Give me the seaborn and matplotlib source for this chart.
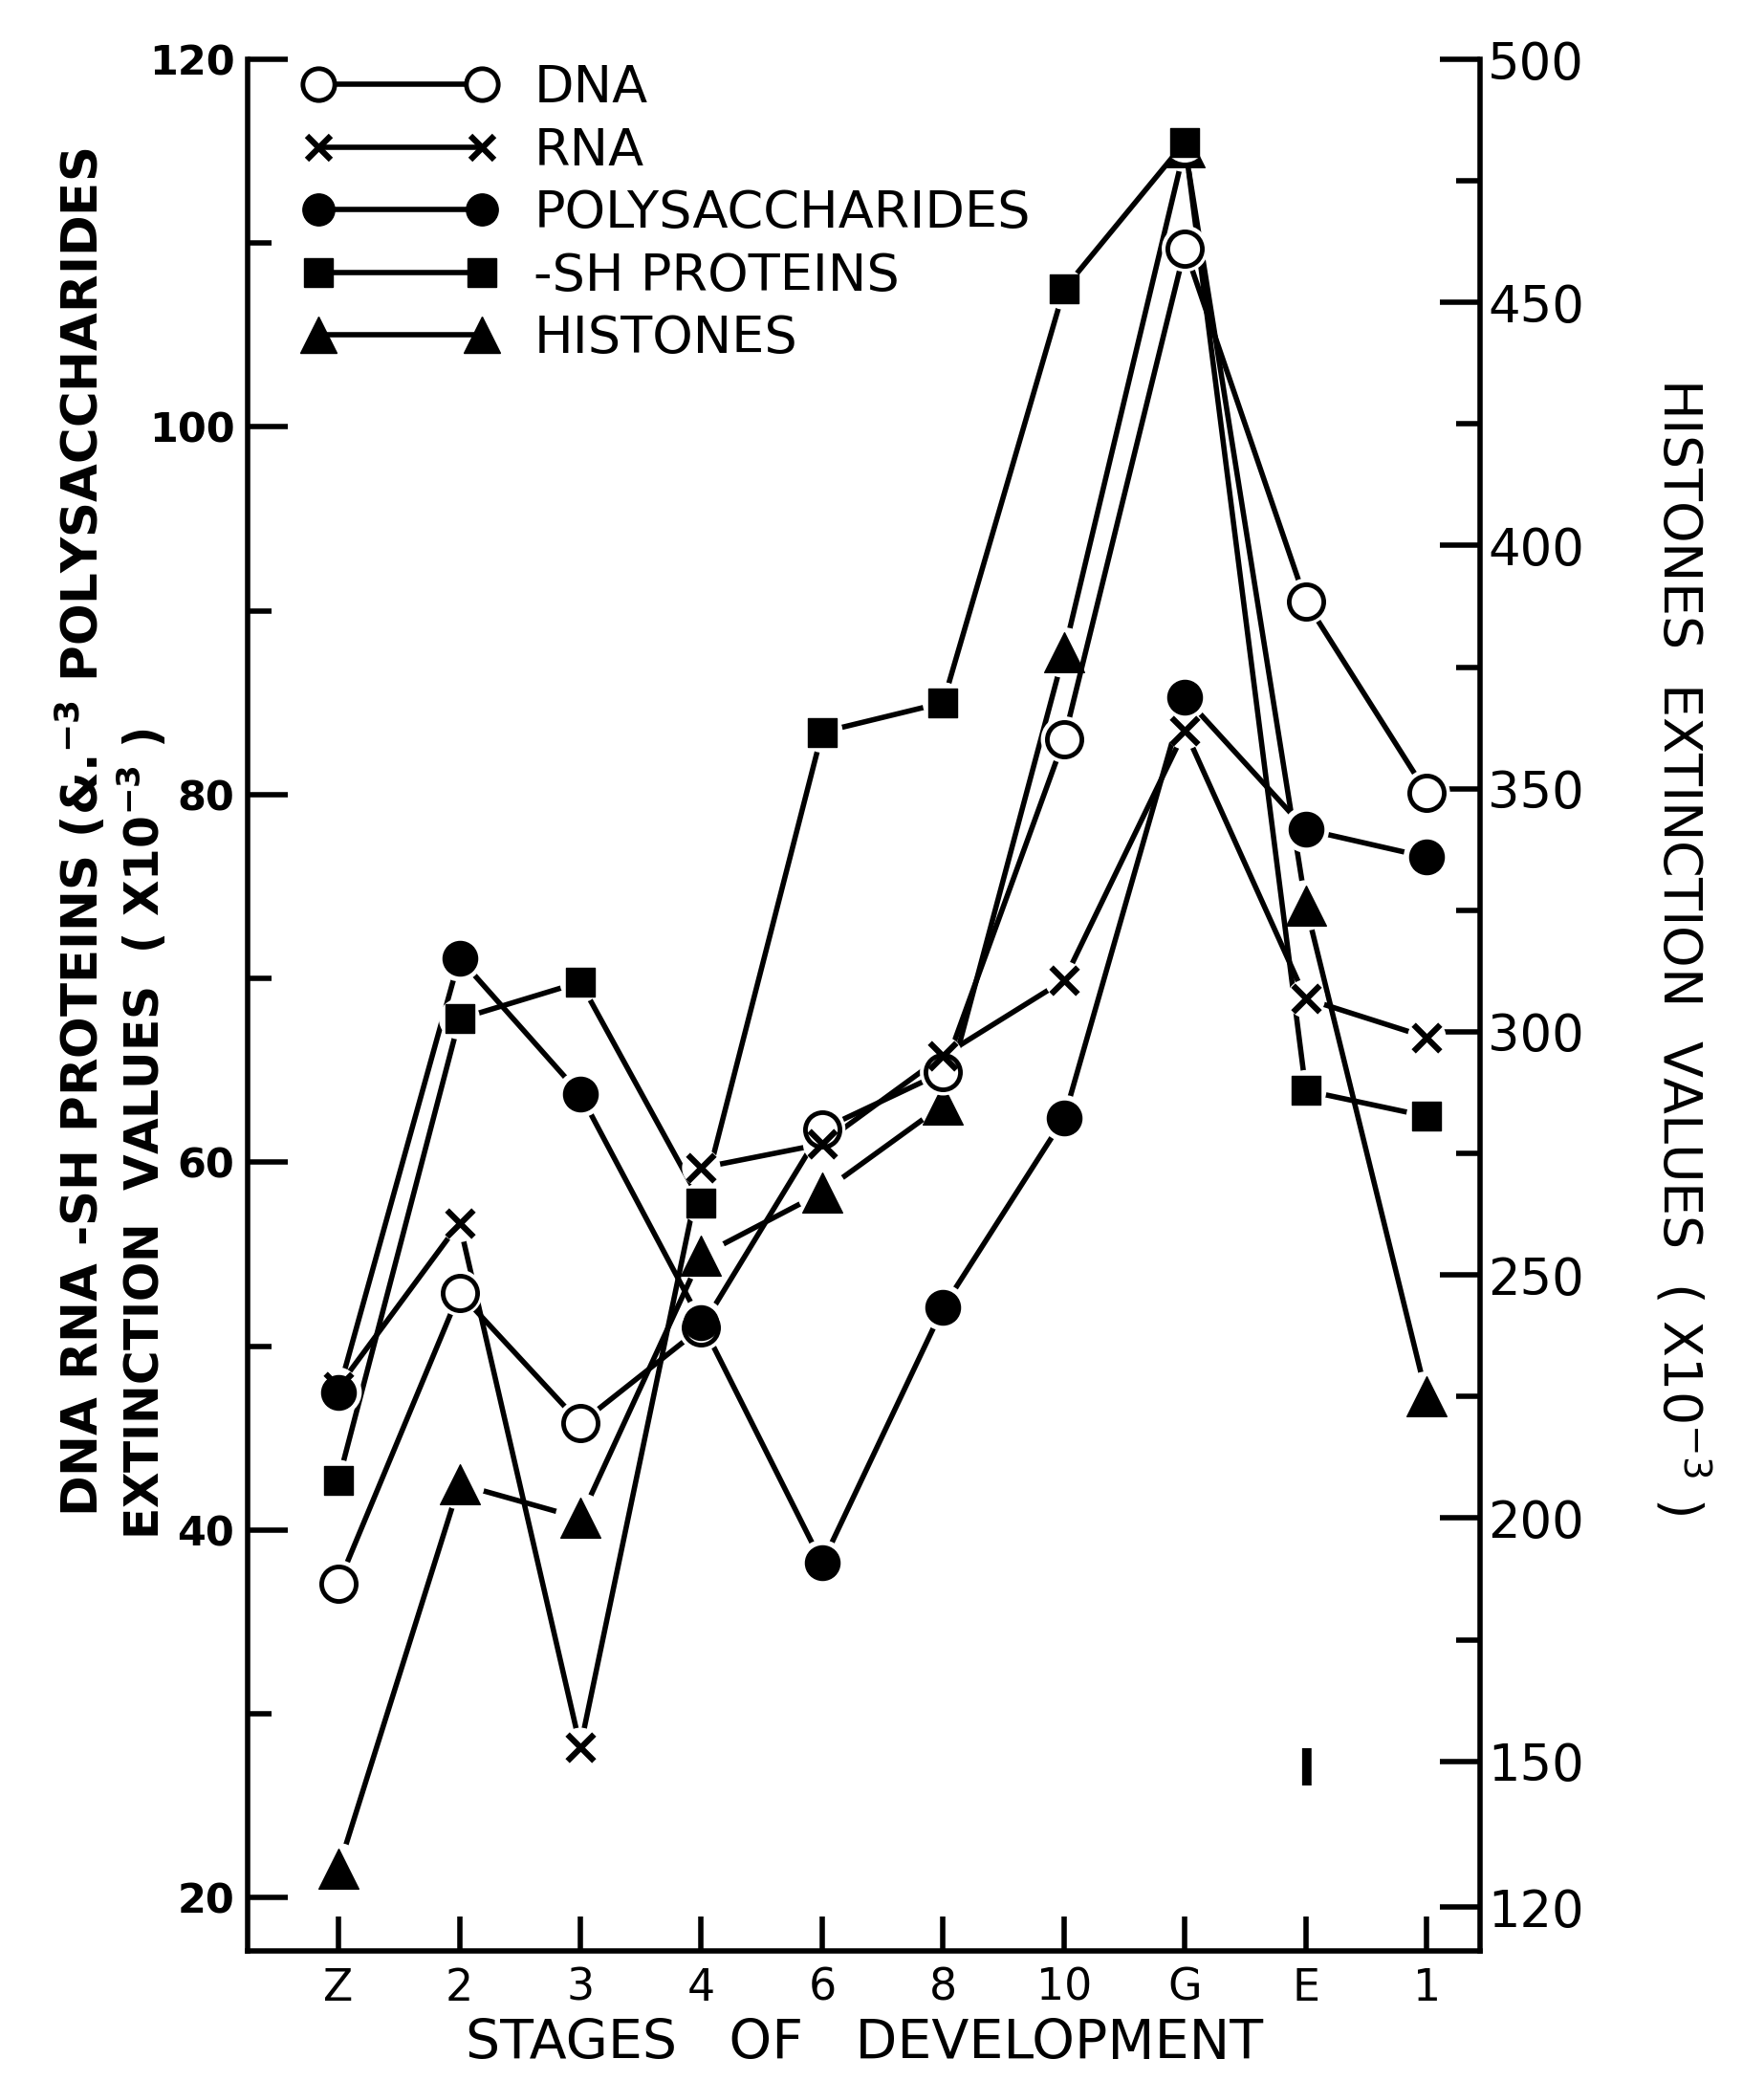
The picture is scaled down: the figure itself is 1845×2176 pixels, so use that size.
import numpy as np
import pandas as pd
import matplotlib
matplotlib.use("Agg")
import matplotlib.pyplot as plt
from matplotlib.lines import Line2D
import seaborn as sns

# ---- data ----
stages = ["Z", "2", "3", "4", "6", "8", "10", "G", "E", "1"]
dna = [37.1, 52.9, 45.8, 51.0, 61.8, 64.9, 83.0, 109.7, 90.5, 80.1]
rna = [47.8, 56.7, 28.2, 59.7, 61.0, 65.8, 69.9, 83.5, 68.9, 66.8]
polysaccharides = [47.5, 71.1, 63.7, 51.3, 38.2, 52.1, 62.4, 85.3, 78.1, 76.6]
sh_proteins = [42.7, 67.8, 69.8, 57.8, 83.4, 85.0, 107.5, 115.5, 63.9, 62.5]
histones = [128, 207, 200, 254, 267, 285, 378, 482, 326, 225]

left_ticks = [20, 40, 60, 80, 100, 120]
left_minor = [30, 50, 70, 90, 110]
right_ticks = [120, 150, 200, 250, 300, 350, 400, 450, 500]
right_minor = [175, 225, 275, 325, 375, 425, 475]

sns.set_theme(style="ticks")
plt.rcParams["font.family"] = ["DejaVu Sans"]
plt.rcParams["mathtext.default"] = "regular"
for k in ["text.color", "axes.labelcolor", "xtick.color", "ytick.color", "axes.edgecolor"]:
    plt.rcParams[k] = "black"

fig = plt.figure(figsize=(18.45, 21.76), dpi=100)
ax = fig.add_axes([0.1405, 0.0625, 0.839 - 0.1405, 0.9715 - 0.0625])
ax2 = ax.twinx()
ax.set_zorder(ax2.get_zorder() + 1)
ax.patch.set_visible(False)

xpos = np.arange(len(stages))
df = pd.DataFrame({"x": xpos, "DNA": dna, "RNA": rna,
                   "POLY": polysaccharides, "SH": sh_proteins,
                   "HIST": histones})

LW = 4
left_series = [
    ("DNA", dict(marker="o", s=26 ** 2, color="white", edgecolor="black", linewidth=3.5)),
    ("RNA", dict(marker="x", s=20 ** 2, color="black", linewidth=4.5)),
    ("POLY", dict(marker="o", s=26 ** 2, color="black", edgecolor="black", linewidth=1)),
    ("SH", dict(marker="s", s=22 ** 2, color="black", edgecolor="black", linewidth=1)),
]

# lines
for col, _ in left_series:
    sns.lineplot(data=df, x="x", y=col, ax=ax, color="black", lw=LW, sort=False,
                 legend=False, zorder=2)
sns.lineplot(data=df, x="x", y="HIST", ax=ax2, color="black", lw=LW, sort=False,
             legend=False, zorder=2)

# white halos (gap between lines and markers)
for col, kw in left_series:
    sns.scatterplot(data=df, x="x", y=col, ax=ax, marker="o",
                    s=(np.sqrt(kw["s"]) + 9) ** 2, color="white",
                    edgecolor="none", linewidth=0, zorder=3, legend=False)
sns.scatterplot(data=df, x="x", y="HIST", ax=ax2, marker="o", s=38 ** 2,
                color="white", edgecolor="none", linewidth=0, zorder=3, legend=False)

# markers
for col, kw in left_series:
    sns.scatterplot(data=df, x="x", y=col, ax=ax, zorder=4, legend=False, **kw)
sns.scatterplot(data=df, x="x", y="HIST", ax=ax2, marker="^", s=30 ** 2,
                color="black", edgecolor="black", linewidth=1, zorder=4, legend=False)

# axes limits
ax.set_xlim(-0.75, 9.44)
ax.set_ylim(17.1, 120)
ax2.set_ylim(111.0, 500)

# ticks
ax.set_xticks(xpos)
ax.set_xticklabels(stages)
ax.set_yticks(left_ticks)
ax.set_yticks(left_minor, minor=True)
ax2.set_yticks(right_ticks)
ax2.set_yticks(right_minor, minor=True)

ax.tick_params(axis="x", direction="in", length=26, width=4, labelsize=33, pad=12)
ax.tick_params(axis="y", which="major", direction="in", length=30, width=4, labelsize=31, pad=10)
ax.tick_params(axis="y", which="minor", direction="in", length=18, width=4)
ax2.tick_params(axis="y", which="major", direction="in", length=30, width=4, labelsize=38, pad=6)
ax2.tick_params(axis="y", which="minor", direction="in", length=18, width=4)
for t in ax.get_yticklabels():
    t.set_fontweight("bold")

for sp in ["top", "right"]:
    ax.spines[sp].set_visible(False)
for sp in ["top", "left", "bottom"]:
    ax2.spines[sp].set_visible(False)
ax.spines["left"].set_linewidth(4)
ax.spines["bottom"].set_linewidth(4)
ax2.spines["right"].set_linewidth(4)

ax.set_xlabel("STAGES   OF   DEVELOPMENT", fontsize=41, labelpad=6)
ax.set_ylabel("")
ax2.set_ylabel("")

# axis titles
fig.text(0.046, 0.600, "DNA RNA -SH PROTEINS (&.$^{-3}$ POLYSACCHARIDES",
         rotation=90, ha="center", va="center", fontsize=37, fontweight="bold")
fig.text(0.081, 0.455, "EXTINCTION  VALUES  ( X10$^{-3}$ )",
         rotation=90, ha="center", va="center", fontsize=35, fontweight="bold")
fig.text(0.953, 0.545, "HISTONES  EXTINCTION  VALUES  ( X10$^{-3}$ )",
         rotation=270, ha="center", va="center", fontsize=40)

ax.text(8, 26.9, "I", fontsize=38, fontweight="bold", ha="center", va="center")

# legend
handles = [
    Line2D([0], [0], color="black", lw=LW, marker="o", ms=24, mfc="white", mec="black", mew=3.5),
    Line2D([0], [0], color="black", lw=LW, marker="x", ms=18, mec="black", mew=4.5),
    Line2D([0], [0], color="black", lw=LW, marker="o", ms=24, mfc="black", mec="black"),
    Line2D([0], [0], color="black", lw=LW, marker="s", ms=22, mfc="black", mec="black"),
    Line2D([0], [0], color="black", lw=LW, marker="^", ms=28, mfc="black", mec="black"),
]
labels = ["DNA", "RNA", "POLYSACCHARIDES", "-SH PROTEINS", "HISTONES"]
ax.legend(handles, labels, loc="upper left", bbox_to_anchor=(0.045, 0.998),
          frameon=False, numpoints=2, handlelength=3.75, handletextpad=0.7,
          labelspacing=0.25, fontsize=39, borderaxespad=0, borderpad=0)

fig.savefig("out.png", dpi=100, facecolor="white")
